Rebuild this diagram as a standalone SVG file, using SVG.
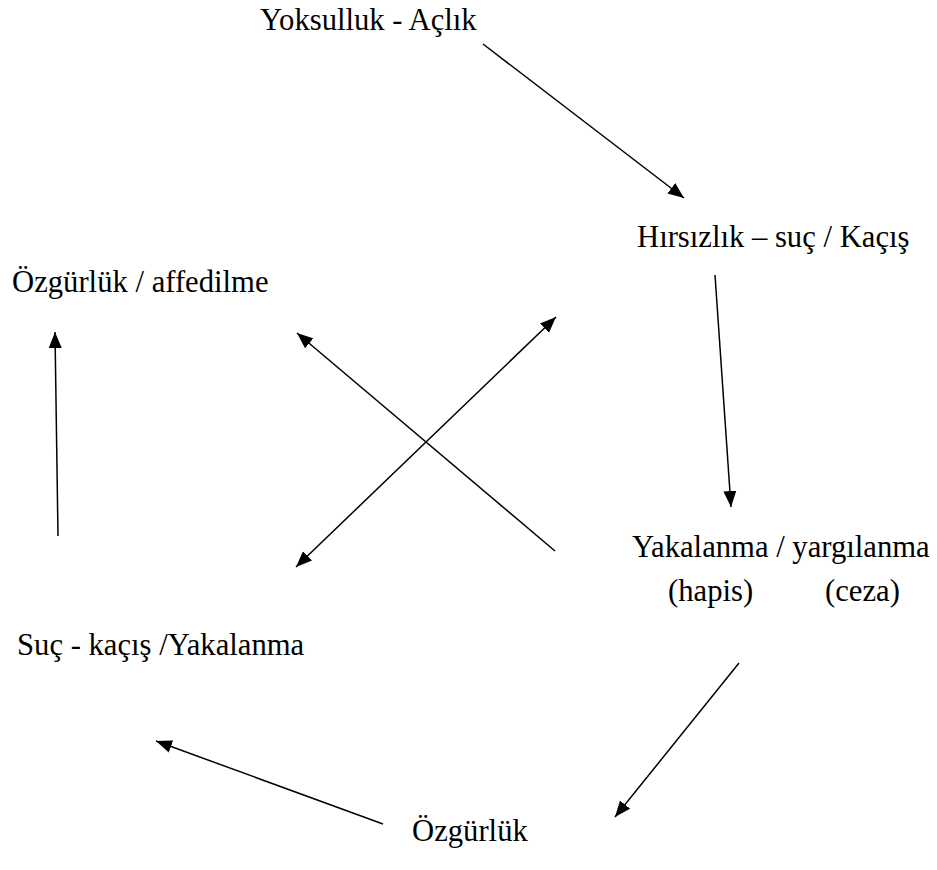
<svg xmlns="http://www.w3.org/2000/svg" width="937" height="870" viewBox="0 0 937 870">
<style>
.t { font-family: "Liberation Serif", "Times New Roman", serif; font-size: 30.67px; fill: #000; }
.c { stroke: #000; stroke-width: 1.5; fill: none; }
</style>
<defs>
<marker id="ah" markerUnits="userSpaceOnUse" markerWidth="18" markerHeight="14" refX="16" refY="6.5" orient="auto-start-reverse" viewBox="0 0 18 13">
<path d="M0,0 L16,6.5 L0,13 Z" fill="#000"/>
</marker>
</defs>
<rect width="937" height="870" fill="#fff"/>
<g id="n1"><text class="t" x="260" y="30">Yoksulluk - Açlık</text></g>
<g id="n2"><text class="t" x="637" y="247">Hırsızlık – suç / Kaçış</text></g>
<g id="n3"><text class="t" x="12" y="292">Özgürlük / affedilme</text></g>
<g id="n4"><text class="t" x="632" y="557">Yakalanma / yargılanma</text><text class="t" x="668" y="601">(hapis)</text><text class="t" x="825" y="601">(ceza)</text></g>
<g id="n5"><text class="t" x="17" y="655">Suç - kaçış /Yakalanma</text></g>
<g id="n6"><text class="t" x="412" y="841">Özgürlük</text></g>
<g id="connectors">
<line class="c" x1="483" y1="44" x2="684" y2="198" marker-end="url(#ah)"/>
<line class="c" x1="715" y1="275" x2="731" y2="507" marker-end="url(#ah)"/>
<line class="c" x1="739" y1="663" x2="615" y2="817" marker-end="url(#ah)"/>
<line class="c" x1="383" y1="824" x2="156" y2="741" marker-end="url(#ah)"/>
<line class="c" x1="58" y1="536" x2="55" y2="332" marker-end="url(#ah)"/>
<line class="c" x1="555" y1="551" x2="297" y2="333" marker-end="url(#ah)"/>
<line class="c" x1="296" y1="567" x2="556" y2="317" marker-start="url(#ah)" marker-end="url(#ah)"/>
</g>
</svg>
